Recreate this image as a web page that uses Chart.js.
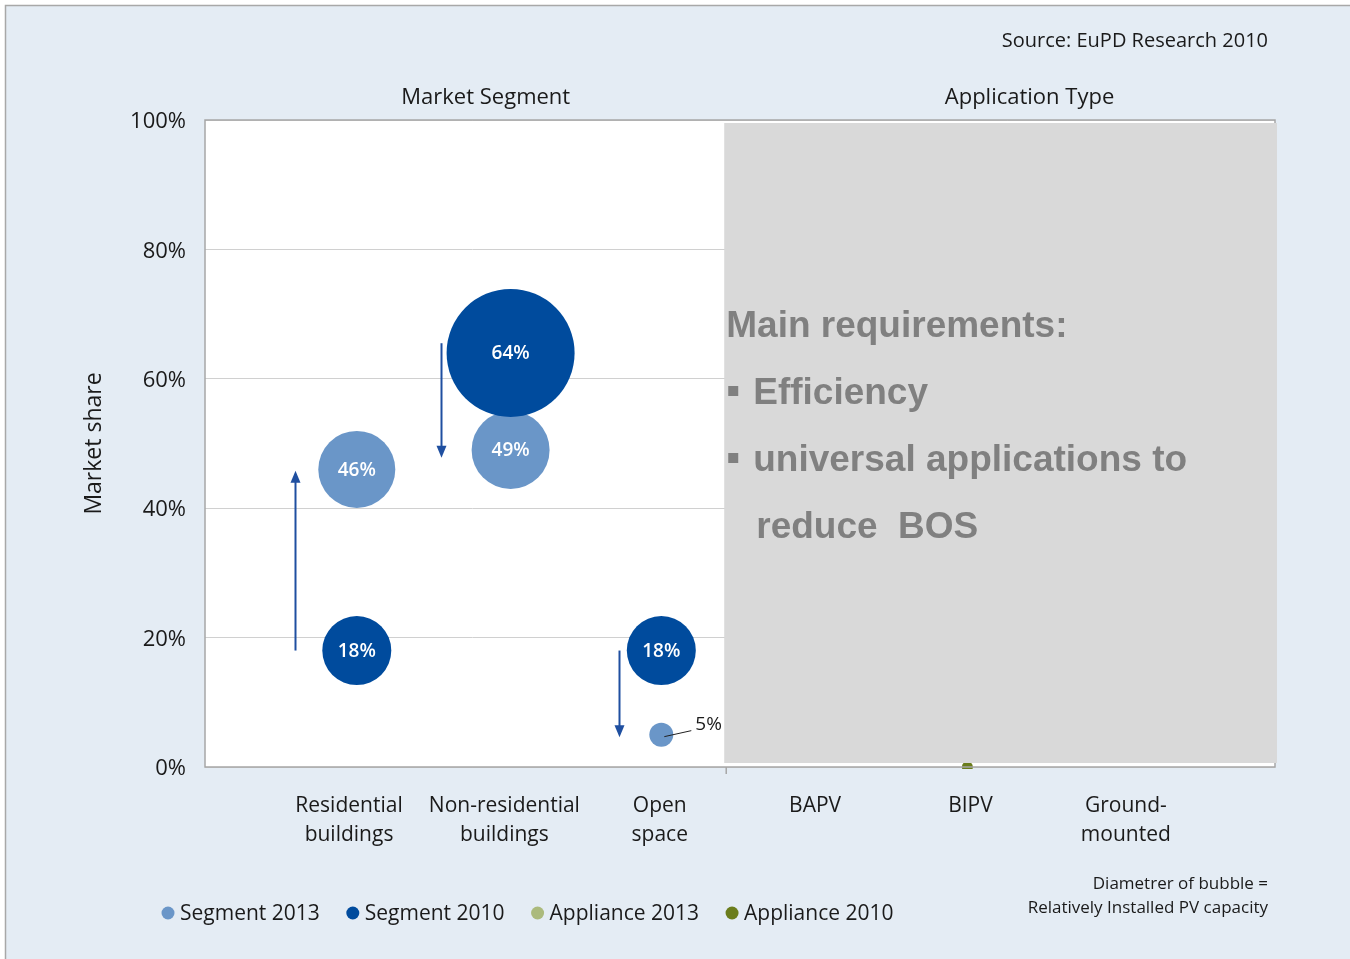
<!DOCTYPE html>
<html><head><meta charset="utf-8">
<script src="https://cdn.jsdelivr.net/npm/chart.js@4/dist/chart.umd.min.js"></script>
<style>html,body{margin:0;padding:0;background:#fff}#wrap{width:1350px;height:959px}</style>
</head><body><div id="wrap"><canvas id="c" width="1350" height="959"></canvas></div>
<script>
// ---- data ----
const categories = [['Residential','buildings'],['Non-residential','buildings'],['Open','space'],['BAPV'],['BIPV'],['Ground-','mounted']];
const groupTitles = ['Market Segment','Application Type'];
const yTickStep = 20;
const seriesNames = ['Segment 2013','Segment 2010','Appliance 2013','Appliance 2010'];
const seg2013X = [0.05, 1.04, 2.01];
const seg2013Y = [46, 49, 5];
const seg2013R = [38.5, 39, 12];
const seg2010X = [0.05, 1.04, 2.01];
const seg2010Y = [18, 64, 18];
const seg2010R = [34.5, 64, 34.5];
const app2013X = [], app2013Y = [], app2013R = [];
const app2010X = [3.98], app2010Y = [0], app2010R = [5.5];
const arrowX = [-0.35, 0.59, 1.74];
const arrowFrom = [18, 65.5, 18];
const arrowTo = [45.8, 47.8, 4.6];
const requirements = ['Main requirements:', 'Efficiency', 'universal applications to', 'reduce  BOS'];
const sourceText = 'Source: EuPD Research 2010';
const noteText = ['Diametrer of bubble =', 'Relatively Installed PV capacity'];

// ---- styles ----
const FONT = '"Open Sans", "Noto Sans", sans-serif';
const colors = ['#6a96c8', '#004b9d', '#abba7c', '#6b7d1c'];
const groupDivider = 2.415;
const groupCenters = [0.88, 4.38];

function pts(xs, ys, rs){ return xs.map((x,i)=>({x:x, y:ys[i], r:rs[i]})); }

const datasets = [
  {label: seriesNames[0], data: pts(seg2013X, seg2013Y, seg2013R), backgroundColor: colors[0], order: 1, showLabels: true},
  {label: seriesNames[1], data: pts(seg2010X, seg2010Y, seg2010R), backgroundColor: colors[1], order: 0, showLabels: true},
  {label: seriesNames[2], data: pts(app2013X, app2013Y, app2013R), backgroundColor: colors[2], order: 3, clip: {left: 0, top: 0, right: 0, bottom: 2}},
  {label: seriesNames[3], data: pts(app2010X, app2010Y, app2010R), backgroundColor: colors[3], order: 2, clip: {left: 0, top: 0, right: 0, bottom: 2}}
];

function drawArrow(ctx, x, y1, y2){
  const dir = Math.sign(y2 - y1);
  ctx.beginPath(); ctx.moveTo(x, y1); ctx.lineTo(x, y2 - dir*9); ctx.stroke();
  ctx.beginPath(); ctx.moveTo(x, y2); ctx.lineTo(x-5, y2 - dir*12); ctx.lineTo(x+5, y2 - dir*12); ctx.closePath(); ctx.fill();
}

const deco = {
  id: 'deco',
  beforeDraw(chart){
    const {ctx, chartArea: a} = chart;
    ctx.save();
    ctx.fillStyle = '#fff'; ctx.fillRect(0, 0, chart.width, chart.height);
    ctx.fillStyle = '#e4ecf4'; ctx.fillRect(5, 5, chart.width, chart.height);
    ctx.strokeStyle = '#a8a8a8'; ctx.lineWidth = 1.5;
    ctx.beginPath(); ctx.moveTo(5.5, chart.height); ctx.lineTo(5.5, 5.5); ctx.lineTo(chart.width, 5.5); ctx.stroke();
    ctx.fillStyle = '#fff'; ctx.fillRect(a.left, a.top, a.width, a.height);
    ctx.restore();
  },
  afterDatasetsDraw(chart){
    const {ctx, chartArea: a, scales: {x, y}} = chart;
    ctx.save();
    // arrows
    ctx.strokeStyle = '#1f4fa0'; ctx.fillStyle = '#1f4fa0'; ctx.lineWidth = 2;
    arrowX.forEach((v,i)=>drawArrow(ctx, Math.round(x.getPixelForValue(v))+0.5, y.getPixelForValue(arrowFrom[i]), y.getPixelForValue(arrowTo[i])));
    // bubble labels
    chart.data.datasets.forEach((ds, di)=>{
      if(!ds.showLabels) return;
      const meta = chart.getDatasetMeta(di);
      meta.data.forEach((el, i)=>{
        const d = ds.data[i];
        const txt = d.y + '%';
        if(d.r >= 20){
          ctx.fillStyle = '#fff'; ctx.font = '600 19px ' + FONT;
          ctx.textAlign = 'center'; ctx.textBaseline = 'middle';
          ctx.fillText(txt, el.x, el.y + 1);
        } else {
          ctx.strokeStyle = '#222'; ctx.lineWidth = 1;
          ctx.beginPath(); ctx.moveTo(el.x + 3, el.y + 2); ctx.lineTo(el.x + 30, el.y - 4); ctx.stroke();
          ctx.fillStyle = '#1a1a1a'; ctx.font = '19px ' + FONT;
          ctx.textAlign = 'left'; ctx.textBaseline = 'middle';
          ctx.fillText(txt, el.x + 34, el.y - 10);
        }
      });
    });
    // frame
    ctx.strokeStyle = '#a6a6a6'; ctx.lineWidth = 1.5;
    ctx.strokeRect(a.left, a.top, a.width, a.height);
    // overlay
    const ox = x.getPixelForValue(groupDivider);
    ctx.fillStyle = '#d9d9d9';
    ctx.fillRect(ox, a.top + 3, a.right + 2 - ox, a.height - 7);
    // divider tick
    ctx.strokeStyle = '#a6a6a6'; ctx.lineWidth = 1.5;
    ctx.beginPath(); ctx.moveTo(ox + 2, a.bottom); ctx.lineTo(ox + 2, a.bottom + 7); ctx.stroke();
    // overlay text
    ctx.fillStyle = '#808080'; ctx.font = 'bold 37px "Liberation Sans", Arial, sans-serif';
    ctx.textAlign = 'left'; ctx.textBaseline = 'alphabetic';
    requirements.forEach((t, i)=>{
      const by = a.top + 217 + i*67;
      if(i === 0){ ctx.fillText(t, ox + 2, by); }
      else if(i === 3){ ctx.fillText(t, ox + 32, by); }
      else { ctx.fillRect(ox + 4, by - 18, 10, 10); ctx.fillText(t, ox + 29, by); }
    });
    ctx.restore();
  },
  afterDraw(chart){
    const {ctx, scales: {x}} = chart;
    ctx.save();
    ctx.fillStyle = '#1a1a1a'; ctx.textBaseline = 'middle';
    // source
    ctx.font = '20px ' + FONT; ctx.textAlign = 'right';
    ctx.fillText(sourceText, 1268, 41);
    // group titles
    ctx.font = '22px ' + FONT; ctx.textAlign = 'center';
    groupTitles.forEach((t,i)=>ctx.fillText(t, x.getPixelForValue(groupCenters[i]), 98));
    // note
    ctx.font = '17px ' + FONT; ctx.textAlign = 'right';
    ctx.fillText(noteText[0], 1268, 884);
    ctx.fillText(noteText[1], 1268, 908);
    // legend
    ctx.font = '21px ' + FONT; ctx.textAlign = 'left';
    let cx = 168;
    chart.data.datasets.forEach(ds=>{
      ctx.fillStyle = ds.backgroundColor;
      ctx.beginPath(); ctx.arc(cx, 913, 6.5, 0, Math.PI*2); ctx.fill();
      ctx.fillStyle = '#1a1a1a';
      ctx.fillText(ds.label, cx + 12, 914);
      cx += 12 + ctx.measureText(ds.label).width + 33;
    });
    ctx.restore();
  }
};

new Chart(document.getElementById('c'), {
  type: 'bubble',
  data: {datasets},
  options: {
    responsive: false, animation: false,
    layout: {padding: {top: 120, right: 75, left: 0, bottom: 0}},
    plugins: {legend: {display: false}, tooltip: {enabled: false}},
    elements: {point: {borderWidth: 0}},
    scales: {
      x: {
        type: 'linear', min: -0.927, max: 5.96,
        afterBuildTicks: s => { s.ticks = categories.map((c,i)=>({value: i})); },
        afterFit: s => { s.height = 192; },
        grid: {display: false, drawTicks: false},
        border: {display: false},
        ticks: {autoSkip: false, maxRotation: 0, padding: 25, color: '#1a1a1a',
          font: {family: FONT, size: 21, lineHeight: 1.38},
          callback: (v, i) => categories[i]}
      },
      y: {
        min: 0, max: 100,
        afterFit: s => { s.width = 205; },
        grid: {color: '#d0d0d0', lineWidth: 1, drawTicks: false},
        border: {display: false},
        ticks: {stepSize: yTickStep, padding: 19, color: '#1a1a1a', labelOffset: 2, font: {family: FONT, size: 22},
          callback: v => v + '%'},
        title: {display: true, text: 'Market share', color: '#1a1a1a', font: {family: FONT, size: 23}, padding: {top: 81, bottom: 0}}
      }
    }
  },
  plugins: [deco]
});
</script></body></html>
